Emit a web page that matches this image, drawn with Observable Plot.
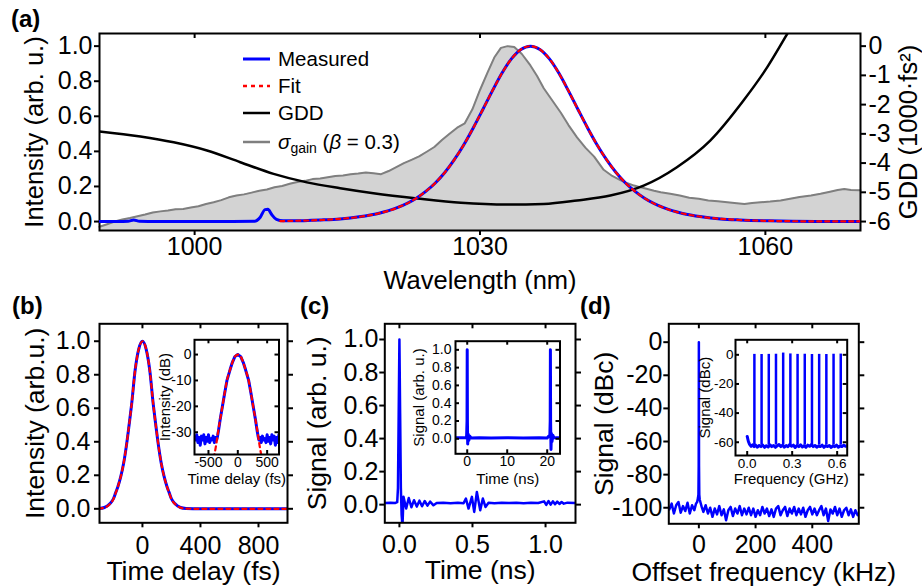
<!DOCTYPE html>
<html>
<head>
<meta charset="utf-8">
<script src="https://cdn.jsdelivr.net/npm/d3@7"></script>
<script src="https://cdn.jsdelivr.net/npm/@observablehq/plot@0.6"></script>
<style>
  body { margin: 0; background: #fff; }
  #fig { position: relative; width: 922px; height: 587px; overflow: hidden;
         font-family: "Liberation Sans", Arial, Helvetica, sans-serif; color: #000; }
  #fig > svg { position: absolute; }
  .tag { position: absolute; font-weight: bold; font-size: 24px; line-height: 1; }
  .key { position: absolute; display: flex; align-items: center; height: 24px; font-size: 20.5px; white-space: nowrap; }
  .key svg { margin-right: 8px; }
  .key sub { font-size: 14px; vertical-align: -4px; line-height: 0; }
</style>
</head>
<body>
<div id="fig"></div>
<script>
// ---------- (a) spectra: wavelength (nm) vs intensity, plus GDD (1000 fs^2) ----------
const gainSpectrum = [
  [990,-0.03],[990.8,-0.015],[991.6,0.0],[992.4,0.012],[993.2,0.02],[994,0.03],[994.8,0.04],[995.6,0.052],
  [996.4,0.058],[997.2,0.063],[998,0.07],[998.8,0.072],[999.6,0.08],[1000.4,0.087],[1001.2,0.1],[1002,0.11],
  [1002.8,0.122],[1003.6,0.138],[1004.4,0.148],[1005.2,0.155],[1006,0.165],[1006.8,0.176],[1007.6,0.183],
  [1008.4,0.196],[1009.2,0.203],[1010,0.215],[1010.8,0.226],[1011.6,0.232],[1012.4,0.242],[1013.2,0.246],
  [1014,0.253],[1014.8,0.26],[1015.6,0.263],[1016.4,0.27],[1017.2,0.274],[1018,0.28],[1018.8,0.276],
  [1019.6,0.27],[1020.4,0.288],[1021.2,0.31],[1022,0.333],[1022.8,0.352],[1023.6,0.372],[1024.4,0.398],
  [1025.2,0.425],[1026,0.465],[1026.8,0.5],[1027.6,0.535],[1028.4,0.56],[1029.2,0.64],[1030,0.75],
  [1030.8,0.85],[1031.5,0.935],[1032.2,0.99],[1032.9,1.0],[1033.6,0.995],[1034.4,0.955],[1035.3,0.89],
  [1036,0.83],[1036.7,0.76],[1037.6,0.69],[1038.5,0.62],[1039.3,0.55],[1040.2,0.48],[1041.1,0.42],
  [1042,0.37],[1043,0.295],[1043.9,0.26],[1044.8,0.235],[1045.5,0.218],[1046.2,0.205],[1046.9,0.195],
  [1047.6,0.186],[1048.3,0.176],[1049,0.167],[1050,0.158],[1051,0.148],[1052,0.136],[1053,0.13],
  [1054,0.12],[1055,0.116],[1056,0.11],[1057,0.105],[1057.8,0.1],[1058.6,0.106],[1059.5,0.11],
  [1060.5,0.114],[1061.6,0.12],[1062.6,0.13],[1063.6,0.14],[1064.8,0.148],[1065.8,0.158],[1066.8,0.17],
  [1067.6,0.18],[1068.3,0.186],[1069,0.18],[1070,0.178]
];
const measuredSpectrum = [
  [990,0.001],[992,0.001],[993,0.002],[993.6,0.009],[994.2,0.002],[996,0.001],[1000,0.001],[1004,0.001],
  [1006.3,0.002],[1006.9,0.025],[1007.4,0.068],[1007.7,0.07],[1008.1,0.04],[1008.6,0.012],[1009.3,0.004],
  [1010.3,0.004],[1013.3,0.009],[1015.3,0.015],[1017.3,0.027],[1019.3,0.046],[1021.3,0.079],[1023.3,0.133],
  [1024.3,0.172],[1025.3,0.22],[1026.3,0.28],[1027.3,0.353],[1028.3,0.438],[1029.3,0.535],[1030.3,0.639],
  [1031.3,0.745],[1032.3,0.845],[1033.3,0.927],[1034.3,0.981],[1035.3,1.0],[1036.3,0.981],[1037.3,0.927],
  [1038.3,0.845],[1039.3,0.745],[1040.3,0.639],[1041.3,0.535],[1042.3,0.438],[1043.3,0.353],[1044.3,0.28],
  [1045.3,0.22],[1046.3,0.172],[1047.3,0.133],[1049.3,0.079],[1051.3,0.046],[1053.3,0.027],[1055.3,0.015],
  [1057.3,0.009],[1060.3,0.004],[1065.3,0.001],[1070,0.001]
];
const fitSpectrum = [
  [1009,0.002],[1010.3,0.0039],[1013.3,0.0088],[1015.3,0.0154],[1017.3,0.0266],[1019.3,0.0459],
  [1021.3,0.0786],[1023.3,0.133],[1024.3,0.172],[1025.3,0.22],[1026.3,0.28],[1027.3,0.353],[1028.3,0.438],
  [1029.3,0.535],[1030.3,0.639],[1031.3,0.745],[1032.3,0.845],[1033.3,0.927],[1034.3,0.981],[1035.3,1.0],
  [1036.3,0.981],[1037.3,0.927],[1038.3,0.845],[1039.3,0.745],[1040.3,0.639],[1041.3,0.535],[1042.3,0.438],
  [1043.3,0.353],[1044.3,0.28],[1045.3,0.22],[1046.3,0.172],[1047.3,0.133],[1049.3,0.0786],[1051.3,0.0459],
  [1053.3,0.0266],[1055.3,0.0154],[1057.3,0.0088],[1060.3,0.0039],[1065.3,0.001],[1070,0.0005]
];
const gddCurve = [
  [990,-2.92],[994.3,-3.09],[997.8,-3.29],[1001.3,-3.57],[1004.8,-3.97],[1008.3,-4.37],[1011.8,-4.66],
  [1015.3,-4.86],[1018.8,-5.03],[1023.4,-5.21],[1028,-5.36],[1032.9,-5.42],[1036.7,-5.4],[1040.2,-5.28],
  [1043.7,-5.11],[1047.2,-4.77],[1050.7,-4.14],[1054.2,-3.23],[1057.7,-1.86],[1060.2,-0.72],[1062.3,0.42],
  [1063.5,1.1]
];
const wavelengthTicks = [1000, 1030, 1060];
const intensityTicks = [0, 0.2, 0.4, 0.6, 0.8, 1.0];
const gddTicks = [0, -1, -2, -3, -4, -5, -6];

// ---------- (b) autocorrelation: delay (fs) ----------
const acMeasured = [
  [-300,0.002],[-262,0.008],[-225,0.03],[-200,0.06],[-185,0.095],[-170,0.13],[-150,0.19],[-130,0.27],
  [-110,0.38],[-92,0.5],[-75,0.62],[-50,0.83],[-25,0.955],[0,1],[25,0.955],[50,0.83],[75,0.62],[92,0.5],
  [110,0.38],[130,0.27],[150,0.19],[170,0.13],[185,0.095],[200,0.06],[225,0.03],[262,0.008],[300,0.002],
  [400,0.0],[500,0.0],[600,0.0],[700,0.0],[800,0.0],[900,0.0],[1000,0.0]
];
const acFit = [
  [-300,0.001],[-262,0.007],[-225,0.028],[-200,0.058],[-185,0.093],[-170,0.13],[-150,0.19],[-130,0.27],
  [-110,0.38],[-92,0.5],[-75,0.62],[-50,0.83],[-25,0.955],[0,1],[25,0.955],[50,0.83],[75,0.62],[92,0.5],
  [110,0.38],[130,0.27],[150,0.19],[170,0.13],[185,0.093],[200,0.058],[225,0.028],[262,0.007],[300,0.001],
  [400,0.0],[600,0.0],[800,0.0],[1000,0.0]
];
const acMeasuredDb = [
  [-720,-33],[-700,-31],[-680,-34],[-660,-32],[-640,-35],[-620,-31.5],[-600,-33],[-580,-31],[-560,-34.5],
  [-540,-32],[-520,-33.5],[-500,-31],[-480,-34],[-460,-32.5],[-440,-33],[-420,-31.5],[-400,-34],[-380,-32],
  [-360,-33],[-345,-31.5],[-330,-29.5],[-300,-25],[-262,-20],[-225,-15],[-185,-10],[-130,-5.7],[-92,-3],
  [-50,-0.8],[0,0],[50,-0.8],[92,-3],[130,-5.7],[185,-10],[225,-15],[262,-20],[300,-25],[330,-29.5],
  [345,-31.5],[360,-33],[380,-32],[400,-34],[420,-31.5],[440,-33],[460,-32.5],[480,-34],[500,-31],
  [520,-33.5],[540,-32],[560,-34.5],[580,-31],[600,-33],[620,-31.5],[640,-35],[660,-32],[680,-34],
  [700,-31],[720,-33]
];
const acFitDb = [
  [-410,-40],[-370,-35],[-337,-30],[-300,-25],[-262,-20],[-225,-15],[-185,-10],[-130,-5.7],[-92,-3],
  [-50,-0.8],[0,0],[50,-0.8],[92,-3],[130,-5.7],[185,-10],[225,-15],[262,-20],[300,-25],[337,-30],
  [370,-35],[410,-40]
];

// ---------- (c) photodiode trace: time (ns) ----------
const pulseTrace = [
  [-0.1,0.01],[-0.06,0.012],[-0.03,0.01],[-0.015,0.015],[-0.01,0.1],[-0.005,0.55],[0,1.0],[0.005,0.55],
  [0.01,0.1],[0.015,-0.06],[0.021,-0.13],[0.028,0.047],[0.046,-0.024],[0.064,0.04],[0.082,-0.016],
  [0.1,0.027],[0.119,-0.012],[0.137,0.024],[0.155,-0.01],[0.173,0.022],[0.192,-0.006],[0.21,0.018],
  [0.233,-0.004],[0.255,0.01],[0.3,0.012],[0.35,0.009],[0.4,0.011],[0.439,0.008],[0.455,0.037],
  [0.473,-0.024],[0.496,0.047],[0.512,-0.044],[0.53,0.077],[0.553,-0.034],[0.571,0.037],[0.589,-0.014],
  [0.61,0.012],[0.65,0.009],[0.7,0.011],[0.75,0.01],[0.8,0.012],[0.85,0.009],[0.9,0.011],[0.95,0.01],
  [0.99,0.02],[1.005,-0.002],[1.02,0.022],[1.035,0.0],[1.05,0.02],[1.065,0.002],[1.08,0.018],
  [1.095,0.004],[1.11,0.016],[1.125,0.006],[1.15,0.012],[1.2,0.01]
];
const pulseTrainTrace = [
  [-3.3,0.01],[-1,0.012],[-0.4,0.01],[-0.15,0.03],[-0.05,0.2],[0,1.0],[0.05,0.2],[0.12,-0.06],[0.25,0.05],
  [0.4,-0.02],[0.6,0.03],[1,0.01],[3,0.012],[6,0.01],[10,0.011],[14,0.01],[18,0.012],[20,0.01],
  [20.4,0.03],[20.65,0.02],[20.75,0.2],[20.8,1.0],[20.85,0.2],[20.95,-0.12],[21.05,0.06],[21.2,-0.03],
  [21.4,0.04],[21.7,0.01],[22.3,0.012],[23.3,0.01]
];

// ---------- (d) RF spectrum: offset frequency (kHz) ----------
const rfSpectrum = [
  [-104,-101],[-96,-97.5],[-88,-103.5],[-80,-98.5],[-72,-96.5],[-64,-103],[-56,-99],[-48,-102],[-40,-97],
  [-32,-103.5],[-24,-98.5],[-16,-101.5],[-10,-97.5],[-6,-96.5],[-3,-94],[-1.5,-92],[-0.6,-75],[0,0],[0.6,-75],
  [1.5,-92],[3,-95],[6,-97],[10,-99.5],[16,-102.5],[24,-98.5],[32,-103.5],[40,-100],[48,-105.5],[56,-100.5],
  [64,-104],[72,-99],[80,-104.5],[88,-101],[96,-107.5],[104,-101.5],[112,-99.5],[120,-105],[128,-100.5],
  [136,-103.5],[144,-99],[152,-104.5],[160,-100.5],[168,-104],[176,-100],[184,-104.5],[192,-100.5],[200,-105.5],
  [208,-101.5],[216,-104.5],[224,-99.5],[232,-103.5],[240,-100.5],[248,-105],[256,-101],[264,-105.5],[272,-100.5],
  [280,-99],[288,-104.5],[296,-101.5],[304,-99.5],[312,-105],[320,-100.5],[328,-103.5],[336,-99.5],[344,-104.5],
  [352,-100.5],[360,-104],[368,-100],[376,-105.5],[384,-101.5],[392,-99.5],[400,-104],[408,-100.5],[416,-104.5],
  [424,-101.5],[432,-99],[440,-104.5],[448,-100.5],[456,-108],[464,-101],[472,-103.5],[480,-99.5],[488,-104.5],
  [496,-100.5],[504,-105.5],[512,-101.5],[520,-100],[528,-104.5],[536,-101],[544,-105.5],[552,-101.5],[560,-104.5]
];
const combGHz = [0.048, 0.096, 0.144, 0.192, 0.240, 0.288, 0.336, 0.384, 0.432, 0.480, 0.528, 0.576, 0.624];
const combPeakDbc = [0.3, 0.2, 0.3, 0.4, 1.2, 0.6, 0.3, 0.4, 0.2, 0.3, 0.2, 0.4, 0.5];
const combBaseDbc = -62;
const combFloor = [
  [0.0,-56],[0.008,-59.5],[0.016,-61.5],[0.026,-62.8],[0.036,-61.8],[0.046,-63],[0.056,-62],[0.068,-63.4],
  [0.08,-62.2],[0.092,-63],[0.104,-62],[0.116,-63.5],[0.128,-62.4],[0.14,-63.2],[0.152,-61.8],[0.164,-63],
  [0.176,-62.2],[0.188,-63.5],[0.2,-62.5],[0.212,-61.6],[0.224,-63],[0.236,-62],[0.248,-63.4],[0.26,-62.3],
  [0.272,-63],[0.284,-61.5],[0.296,-62.8],[0.308,-62],[0.32,-63.6],[0.332,-62.2],[0.344,-63],[0.356,-61.8],
  [0.368,-63.2],[0.38,-62.4],[0.392,-63.5],[0.404,-62],[0.416,-62.8],[0.428,-61.6],[0.44,-63],[0.452,-62.2],
  [0.464,-63.4],[0.476,-62.6],[0.488,-63],[0.5,-62],[0.512,-63.5],[0.524,-62.4],[0.536,-63],[0.548,-62.2],
  [0.56,-63.6],[0.572,-62.5],[0.584,-63],[0.596,-62],[0.608,-63.4],[0.62,-62.6],[0.632,-63],[0.644,-62],
  [0.656,-62.8],[0.664,-62.5]
];

// ---------- drawing ----------
const FONT = '"Liberation Sans", Arial, Helvetica, sans-serif';
const BLUE = "#0000ff", RED = "#ff0000", GRAY_LINE = "#7f7f7f", GRAY_FILL = "#d3d3d3";
const FIT_DASH = "4,4";
const fig = document.getElementById("fig");
const pts = (arr) => arr.map(([x, y]) => ({x, y}));
const fmt1 = d3.format(".1f");
const plain = (d) => String(d);

function mount(svg, left, top) {
  svg.style.left = left + "px";
  svg.style.top = top + "px";
  fig.appendChild(svg);
}

function base(o, marks) {
  return Plot.plot({
    width: o.width, height: o.height,
    marginLeft: o.ml, marginRight: o.mr, marginTop: o.mt, marginBottom: o.mb,
    x: {domain: o.x, axis: null}, y: {domain: o.y, axis: null},
    style: {fontFamily: FONT, background: "transparent", color: "black", overflow: "visible"},
    marks
  });
}

// axis title helpers: horizontal under the frame, vertical beside it
const xTitle = (label, dy, size) => Plot.text([label], {text: d => d, frameAnchor: "bottom", dy,
  textAnchor: "middle", lineAnchor: "middle", fontSize: size});
const yTitle = (label, dx, size, side = "left") => Plot.text([label], {text: d => d, frameAnchor: side, dx,
  rotate: -90, textAnchor: "middle", lineAnchor: "middle", fontSize: size});

// measured trace in blue with the dashed red fit on top
const measuredAndFit = (measured, fit, curve) => [
  Plot.line(pts(measured), {x: "x", y: "y", stroke: BLUE, strokeWidth: 3, curve, clip: true}),
  Plot.line(pts(fit), {x: "x", y: "y", stroke: RED, strokeWidth: 2.2, strokeDasharray: FIT_DASH, curve, clip: true})
];

// Frame with outward left/bottom ticks (or inward everywhere for insets), tick labels and axis titles
function framed(o, dataMarks) {
  const ih = o.height - o.mt - o.mb, iw = o.width - o.ml - o.mr;
  const ts = o.tick, sw = o.sw ?? 2;
  const marks = [...dataMarks, Plot.frame({stroke: "black", strokeWidth: sw})];
  marks.push(Plot.axisX({anchor: "bottom", ticks: o.xTicks, tickFormat: o.xFmt, tickSize: o.inward ? 0 : ts,
    tickPadding: o.padX, fontSize: o.tickFont, strokeWidth: sw, label: null}));
  marks.push(Plot.axisY({anchor: "left", ticks: o.yTicks, tickFormat: o.yFmt, tickSize: o.inward ? 0 : ts,
    tickPadding: o.padY, fontSize: o.tickFont, strokeWidth: sw, label: null}));
  marks.push(Plot.tickX(o.xTicks, {insetBottom: ih - ts, strokeWidth: sw}));
  if (o.inward) {
    marks.push(Plot.tickX(o.xTicks, {insetTop: ih - ts, strokeWidth: sw}));
    marks.push(Plot.tickY(o.yTicks, {insetRight: iw - ts, strokeWidth: sw}));
    marks.push(Plot.tickY(o.yTicks, {insetLeft: iw - ts, strokeWidth: sw}));
  } else if (o.rightTicks !== false) {
    marks.push(Plot.axisY({anchor: "right", ticks: o.yTicks, tickFormat: () => "", tickSize: ts,
      strokeWidth: sw, label: null}));
  }
  if (o.xLabel) marks.push(xTitle(o.xLabel, o.xLabelDy, o.labelFont));
  if (o.yLabel) marks.push(yTitle(o.yLabel, o.yLabelDx, o.labelFont));
  return base(o, marks);
}

// (a)
const A = {width: 922, height: 300, ml: 99, mr: 62, mt: 33, mb: 70, x: [990, 1070], y: [-0.051, 1.072],
  tick: 5, padX: 2, padY: 2, tickFont: 25, labelFont: 25.5,
  xTicks: wavelengthTicks, yTicks: intensityTicks, xFmt: plain, yFmt: fmt1, rightTicks: false,
  xLabel: "Wavelength (nm)", xLabelDy: 50, yLabel: "Intensity (arb. u.)", yLabelDx: -65};
mount(framed(A, [
  Plot.areaY(pts(gainSpectrum), {x: "x", y1: A.y[0], y2: "y", fill: GRAY_FILL}),
  Plot.lineY(pts(gainSpectrum), {x: "x", y: "y", stroke: GRAY_LINE, strokeWidth: 2})
]), 0, 0);
const gddDomain = [6 * (A.y[0] - 1), 6 * (A.y[1] - 1)];
mount(base({...A, y: gddDomain}, [
  Plot.line(pts(gddCurve), {x: "x", y: "y", stroke: "black", strokeWidth: 2.5, curve: "monotone-x", clip: true}),
  Plot.axisY({anchor: "right", ticks: gddTicks, tickFormat: plain, tickSize: 5, tickPadding: 3, fontSize: 25,
    strokeWidth: 2, label: null}),
  yTitle("GDD (1000·fs²)", 48, 25.5, "right")
]), 0, 0);
mount(base(A, measuredAndFit(measuredSpectrum, fitSpectrum, "monotone-x")), 0, 0);

// (b)
const B = {width: 300, height: 297, ml: 99, mr: 13, mt: 33.3, mb: 64.7, x: [-296, 1000], y: [-0.0835, 1.104],
  tick: 5, padX: 8, padY: 4, tickFont: 25, labelFont: 26.5,
  xTicks: [0, 400, 800], yTicks: intensityTicks, xFmt: plain, yFmt: fmt1,
  xLabel: "Time delay (fs)", xLabelDy: 49, yLabel: "Intensity (arb.u.)", yLabelDx: -64};
mount(framed(B, measuredAndFit(acMeasured, acFit, "monotone-x")), 0, 290);
const Bi = {width: 140, height: 160, ml: 44, mr: 11.5, mt: 9.3, mb: 36, x: [-738, 702], y: [-38.6, 5.7],
  tick: 4, padX: 2.5, padY: 3, tickFont: 14, labelFont: 15, inward: true,
  xTicks: [-500, 0, 500], yTicks: [0, -10, -20, -30], xFmt: plain, yFmt: plain,
  xLabel: "Time delay (fs)", xLabelDy: 25, yLabel: "Intensity (dB)", yLabelDx: -29};
mount(framed(Bi, [
  Plot.line(pts(acMeasuredDb), {x: "x", y: "y", stroke: BLUE, strokeWidth: 3, clip: true}),
  Plot.line(pts(acFitDb), {x: "x", y: "y", stroke: RED, strokeWidth: 2.2, strokeDasharray: FIT_DASH,
    curve: "monotone-x", clip: true})
]), 150, 330);

// (c)
const C = {width: 290, height: 297, ml: 84.3, mr: 15, mt: 33.3, mb: 64.7, x: [-0.1, 1.205], y: [-0.11, 1.095],
  tick: 5, padX: 7, padY: 1.5, tickFont: 25, labelFont: 26.5,
  xTicks: [0, 0.5, 1.0], yTicks: intensityTicks, xFmt: fmt1, yFmt: fmt1,
  xLabel: "Time (ns)", xLabelDy: 48, yLabel: "Signal (arb. u.)", yLabelDx: -67};
mount(framed(C, [
  Plot.line(pts(pulseTrace), {x: "x", y: "y", stroke: BLUE, strokeWidth: 2.5, clip: true})
]), 300, 290);
const Ci = {width: 165, height: 160, ml: 50, mr: 10.5, mt: 10.7, mb: 36.7, x: [-2.93, 23.2], y: [-0.169, 1.097],
  tick: 4, padX: 2.5, padY: 4, tickFont: 14, labelFont: 15, inward: true,
  xTicks: [0, 10, 20], yTicks: intensityTicks, xFmt: plain, yFmt: fmt1,
  xLabel: "Time (ns)", xLabelDy: 25.5, yLabel: "Signal (arb. u.)", yLabelDx: -36};
mount(framed(Ci, [
  Plot.line(pts(pulseTrainTrace), {x: "x", y: "y", stroke: BLUE, strokeWidth: 3, clip: true})
]), 405, 330);

// (d)
const D = {width: 342, height: 297, ml: 88.3, mr: 63.7, mt: 33.3, mb: 63.7, x: [-106, 564], y: [-109.7, 11.1],
  tick: 5, padX: 6.5, padY: 1.5, tickFont: 25, labelFont: 26.5,
  xTicks: [0, 200, 400], yTicks: [0, -20, -40, -60, -80, -100], xFmt: plain, yFmt: plain,
  xLabel: "Offset frequency (kHz)", xLabelDy: 49, yLabel: "Signal (dBc)", yLabelDx: -64};
mount(framed(D, [
  Plot.line(pts(rfSpectrum), {x: "x", y: "y", stroke: BLUE, strokeWidth: 2.5, clip: true})
]), 580, 290);
const Di = {width: 165, height: 160, ml: 45, mr: 8.3, mt: 9.3, mb: 35, x: [-0.078, 0.667], y: [-69.1, 10.3],
  tick: 4, padX: 2.5, padY: 2, tickFont: 13.5, labelFont: 15, inward: true,
  xTicks: [0, 0.3, 0.6], yTicks: [0, -20, -40, -60], xFmt: fmt1, yFmt: plain,
  xLabel: "Frequency (GHz)", xLabelDy: 24, yLabel: "Signal (dBc)", yLabelDx: -30};
const comb = combGHz.map((f, i) => ({f, top: combPeakDbc[i]}));
mount(framed(Di, [
  Plot.ruleX(comb, {x: "f", y1: combBaseDbc, y2: "top", stroke: BLUE, strokeWidth: 2.5}),
  Plot.line(pts(combFloor), {x: "x", y: "y", stroke: BLUE, strokeWidth: 3, clip: true})
]), 690, 330);

// panel tags
[["(a)", 11, 7], ["(b)", 12, 294], ["(c)", 300, 294], ["(d)", 580, 294]].forEach(([t, x, y]) => {
  const el = document.createElement("div");
  el.className = "tag"; el.textContent = t;
  el.style.left = x + "px"; el.style.top = y + "px";
  fig.appendChild(el);
});

// legend for (a)
const keys = [
  {html: "Measured", stroke: BLUE, dash: null, width: 3, cy: 59},
  {html: "Fit", stroke: RED, dash: FIT_DASH, width: 2.5, cy: 86},
  {html: "GDD", stroke: "black", dash: null, width: 2.5, cy: 113.3},
  {html: "<i>σ</i><sub>gain</sub>&nbsp;(<i>β</i> = 0.3)", stroke: GRAY_LINE, dash: null, width: 2.5, cy: 141.7}
];
keys.forEach(k => {
  const row = document.createElement("div");
  row.className = "key";
  row.style.left = "243px"; row.style.top = (k.cy - 12) + "px";
  row.innerHTML = `<svg width="27" height="6"><line x1="0" x2="27" y1="3" y2="3" stroke="${k.stroke}" stroke-width="${k.width}"${k.dash ? ` stroke-dasharray="${k.dash}"` : ""}/></svg><span>${k.html}</span>`;
  fig.appendChild(row);
});
</script>
</body>
</html>
